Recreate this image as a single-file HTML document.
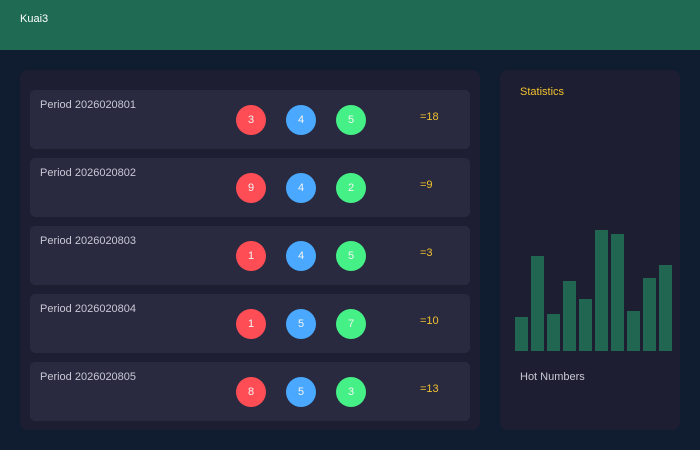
<!DOCTYPE html>
<html><head><style>
body{margin:0;width:700px;height:450px;background:#101d31;font-family:"Liberation Sans",sans-serif;position:relative;overflow:hidden}
.hdr{position:absolute;left:0;top:0;width:700px;height:50px;background:#1f6a53;color:#fff;font-size:11px}
.hdr span{position:absolute;left:20px;top:13px}
.panel{position:absolute;background:#1e1e32;border-radius:8px}
.row{position:absolute;left:30px;width:440px;height:59px;background:#292a40;border-radius:5px}
.row .p{position:absolute;left:10px;top:9px;color:#c8c8d4;font-size:11px}
.ball{position:absolute;top:15px;width:30px;height:30px;border-radius:50%;color:#f4f4f4;font-size:11px;text-align:center;line-height:31px}
.r{background:#fe4d55}.b{background:#4aa9ff}.g{background:#45f086}
.sum{position:absolute;left:390px;top:21px;color:#f2c12e;font-size:11px}
.bar{position:absolute;width:13px;background:#206650;bottom:99px}
</style></head><body>
<div class="hdr"><span>Kuai3</span></div>
<div class="panel" style="left:20px;top:70px;width:460px;height:360px"></div>
<div class="row" style="top:90px"><div class="p">Period 2026020801</div><div class="ball r" style="left:206px">3</div><div class="ball b" style="left:256px">4</div><div class="ball g" style="left:306px">5</div><div class="sum">=18</div></div>
<div class="row" style="top:158px"><div class="p">Period 2026020802</div><div class="ball r" style="left:206px">9</div><div class="ball b" style="left:256px">4</div><div class="ball g" style="left:306px">2</div><div class="sum">=9</div></div>
<div class="row" style="top:226px"><div class="p">Period 2026020803</div><div class="ball r" style="left:206px">1</div><div class="ball b" style="left:256px">4</div><div class="ball g" style="left:306px">5</div><div class="sum">=3</div></div>
<div class="row" style="top:294px"><div class="p">Period 2026020804</div><div class="ball r" style="left:206px">1</div><div class="ball b" style="left:256px">5</div><div class="ball g" style="left:306px">7</div><div class="sum">=10</div></div>
<div class="row" style="top:362px"><div class="p">Period 2026020805</div><div class="ball r" style="left:206px">8</div><div class="ball b" style="left:256px">5</div><div class="ball g" style="left:306px">3</div><div class="sum">=13</div></div>
<div class="panel" style="left:500px;top:70px;width:180px;height:360px"></div>
<div style="position:absolute;left:520px;top:86px;color:#f2c12e;font-size:11px">Statistics</div>
<div style="position:absolute;left:520px;top:371px;color:#c8c8d4;font-size:11px">Hot Numbers</div>
<div class="bar" style="left:515px;height:34px"></div>
<div class="bar" style="left:531px;height:95px"></div>
<div class="bar" style="left:547px;height:37px"></div>
<div class="bar" style="left:563px;height:70px"></div>
<div class="bar" style="left:579px;height:52px"></div>
<div class="bar" style="left:595px;height:121px"></div>
<div class="bar" style="left:611px;height:117px"></div>
<div class="bar" style="left:627px;height:40px"></div>
<div class="bar" style="left:643px;height:73px"></div>
<div class="bar" style="left:659px;height:86px"></div>
</body></html>
